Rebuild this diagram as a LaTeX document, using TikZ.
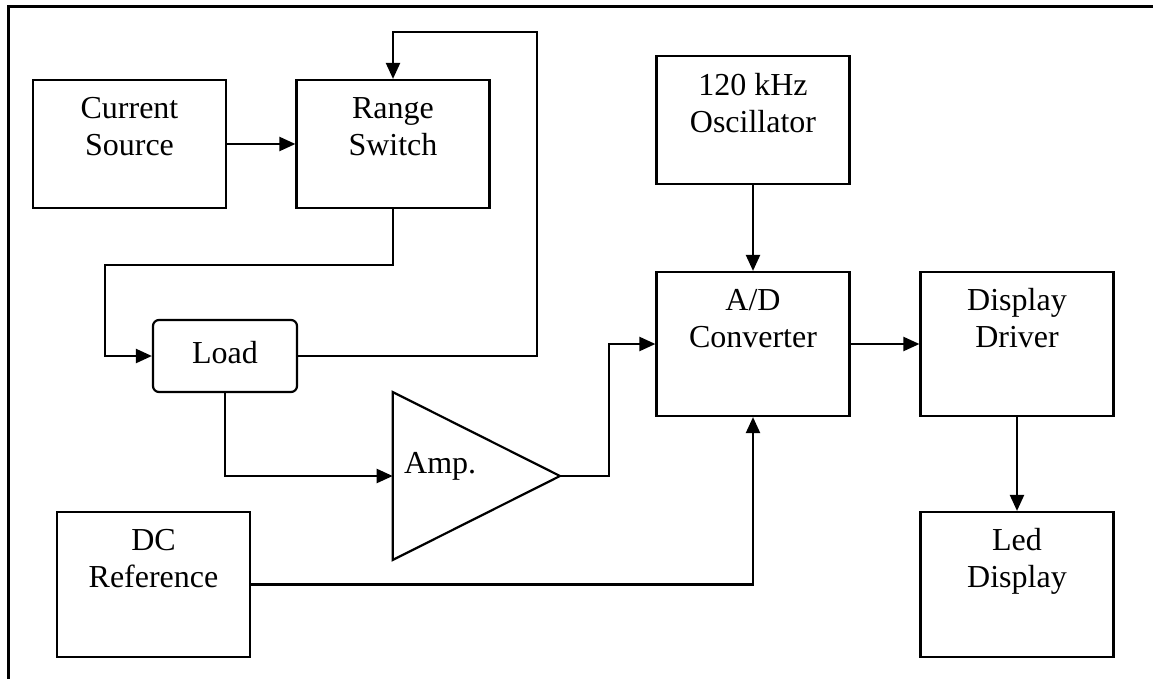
\documentclass[tikz,border=0pt]{standalone}
\usepackage{fontspec}
\setmainfont{Liberation Serif}
\usetikzlibrary{arrows.meta,calc}
\begin{document}
\begin{tikzpicture}[x=1pt,y=-1pt,
  box/.style={draw,line width=2.2pt,inner sep=0pt,minimum width=193pt},
  lbl/.style={font=\fontsize{32}{37}\selectfont,align=center,inner sep=0pt},
  arr/.style={line width=2.2pt,-{Triangle[length=16pt,width=14pt]}}]
\useasboundingbox (0,0) rectangle (1156,679);
% frame
\draw[line width=3pt] (8,679) -- (8,7) -- (1153,7);
% boxes
\node[box,minimum height=128pt] (cs) at (129.5,144) {};
\node[box,minimum height=128pt] (rs) at (393,144) {};
\node[box,minimum height=128pt] (osc) at (753,120) {};
\node[box,minimum height=144pt] (ad) at (753,344) {};
\node[box,minimum height=144pt] (dd) at (1017,344) {};
\node[box,minimum height=145pt] (led) at (1017,584.5) {};
\node[box,minimum height=145pt] (dc) at (153.5,584.5) {};
\node[draw,line width=2.2pt,rounded corners=6pt,minimum width=144pt,minimum height=72pt,inner sep=0pt,
  font=\fontsize{32}{37}\selectfont,text height=22pt,text depth=7pt] (load) at (225,356) {Load};
% labels (anchor base = baseline of the last line)
\node[lbl,anchor=base] (csT) at ([yshift=-77pt]cs.north) {Current\\Source};
\node[lbl,anchor=base] (rsT) at ([yshift=-77pt]rs.north) {Range\\Switch};
\node[lbl,anchor=base] (oscT) at ([yshift=-78pt]osc.north) {120 kHz\\Oscillator};
\node[lbl,anchor=base] (adT) at ([yshift=-77pt]ad.north) {A/D\\Converter};
\node[lbl,anchor=base] (ddT) at ([yshift=-77pt]dd.north) {Display\\Driver};
\node[lbl,anchor=base] (ledT) at ([yshift=-77pt]led.north) {Led\\Display};
\node[lbl,anchor=base] (dcT) at ([yshift=-77pt]dc.north) {DC\\Reference};
% amplifier
\coordinate (ampin) at (392.7,476);
\coordinate (ampout) at (560,476);
\draw[line width=2.2pt,line join=miter] (392.7,392) -- (ampout) -- (392.7,560) -- cycle;
\node[lbl,anchor=base west] (ampT) at (404,473) {Amp.};
% helper coordinates
\coordinate (c1) at (105,265);
\coordinate (c2) at (537,32);
\coordinate (c3) at (609,476);
% connectors
\draw[arr] (cs.east) -- (rs.west);
\draw[arr] (rs.south) |- (c1) |- (load.west);
\draw[arr] (load.east) -| (c2) -| (rs.north);
\draw[arr] (load.south) |- (ampin);
\draw[arr] (ampout) -- (c3) |- (ad.west);
\draw[arr] (osc.south) -- (ad.north);
\draw[arr] (dc.east) -| (ad.south);
\draw[arr] (ad.east) -- (dd.west);
\draw[arr] (dd.south) -- (led.north);
\end{tikzpicture}
\end{document}
